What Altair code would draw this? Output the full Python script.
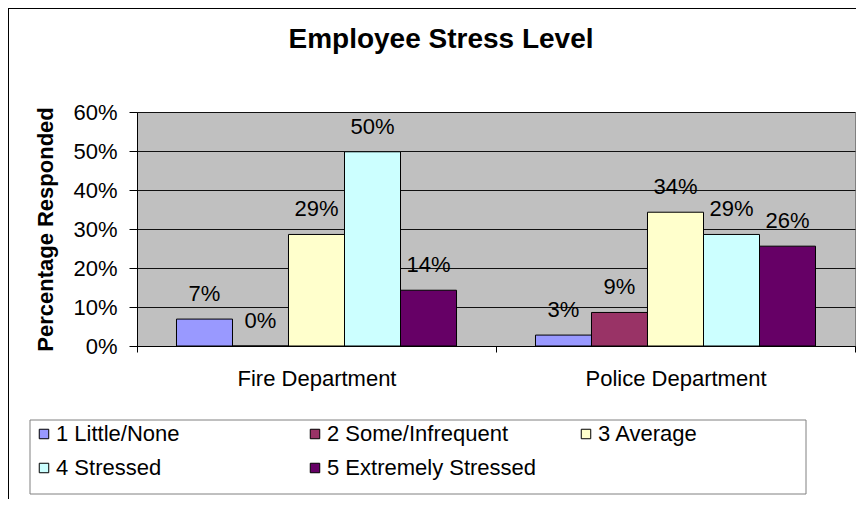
import altair as alt
import pandas as pd

TITLE = "Employee Stress Level"
Y_TITLE = "Percentage Responded"
DEPARTMENTS = ["Fire Department", "Police Department"]
LEVELS = ["1 Little/None", "2 Some/Infrequent", "3 Average", "4 Stressed", "5 Extremely Stressed"]
COLORS = ["#9999FF", "#993366", "#FFFFCC", "#CCFFFF", "#660066"]
FIRE = [0.069, 0.0, 0.286, 0.498, 0.143]
POLICE = [0.028, 0.086, 0.343, 0.286, 0.256]
Y_TICKS = [0, 0.1, 0.2, 0.3, 0.4, 0.5, 0.6]

rows = []
for dept, vals in zip(DEPARTMENTS, [FIRE, POLICE]):
    for lvl, v in zip(LEVELS, vals):
        rows.append({"Department": dept, "Level": lvl, "Value": v})
df = pd.DataFrame(rows)

FONT = "Liberation Sans"
W, H = 718, 234

x_enc = alt.X("Department:N", sort=DEPARTMENTS,
              scale=alt.Scale(paddingInner=0, paddingOuter=0),
              axis=alt.Axis(title=None, labelAngle=0, labelFontSize=22, labelFont=FONT,
                            labelColor="black", tickBand="extent", tickSize=6,
                            tickColor="black", domainColor="black", labelPadding=16,
                            labelLimit=400))
xo_enc = alt.XOffset("Level:N", sort=LEVELS,
                     scale=alt.Scale(paddingInner=0, paddingOuter=0.705))
y_enc = alt.Y("Value:Q", scale=alt.Scale(domain=[0, 0.6], nice=False),
              axis=alt.Axis(values=Y_TICKS, format=".0%", title=Y_TITLE,
                            labelOverlap=False,
                            labelFontSize=22, labelFont=FONT, labelColor="black",
                            titleFontSize=22, titleFont=FONT, titleFontWeight="bold",
                            titleColor="black", titleX=-92, titleY=H / 2,
                            titleAngle=-90, titleAlign="center", titleBaseline="middle",
                            grid=True, gridColor="#111111", gridWidth=1,
                            tickSize=8, tickColor="black", domainColor="black",
                            labelPadding=12))

bars = alt.Chart(df).mark_bar(stroke="black", strokeWidth=1).encode(
    x=x_enc, xOffset=xo_enc, y=y_enc,
    color=alt.Color("Level:N", sort=LEVELS,
                    scale=alt.Scale(domain=LEVELS, range=COLORS),
                    legend=alt.Legend(title=None, orient="none", legendX=-104, legendY=311,
                                      direction="horizontal", columns=3, gridAlign="all",
                                      columnPadding=38, rowPadding=12,
                                      symbolType="square", symbolSize=90,
                                      symbolStrokeColor="black", symbolStrokeWidth=1,
                                      symbolOffset=0, labelOffset=1,
                                      labelFontSize=22, labelFont=FONT, labelColor="black",
                                      labelLimit=400)),
)

labels = alt.Chart(df).mark_text(fontSize=22, font=FONT, color="black",
                                 baseline="middle", dy=-25).encode(
    x=x_enc, xOffset=xo_enc, y=y_enc,
    text=alt.Text("Value:Q", format=".0%"),
)

one = pd.DataFrame({"t": [TITLE]})
title = alt.Chart(one).mark_text(fontSize=28, font=FONT, fontWeight="bold", color="black",
                                 baseline="middle", align="center").encode(
    text="t:N", x=alt.value(304), y=alt.value(-72))

legend_box = alt.Chart(one).mark_rect(fill="white", stroke="#808080", strokeWidth=1).encode(
    x=alt.value(-107), x2=alt.value(669), y=alt.value(308), y2=alt.value(382))

border_left = alt.Chart(one).mark_rule(color="black", strokeWidth=1).encode(
    x=alt.value(-128.5), y=alt.value(-104), y2=alt.value(400))
border_top = alt.Chart(one).mark_rule(color="black", strokeWidth=1).encode(
    x=alt.value(-129), x2=alt.value(730), y=alt.value(-103.5))

chart = alt.layer(legend_box, bars, labels, title, border_left, border_top).properties(
    width=W, height=H,
    padding={"left": 129, "top": 104, "right": 1, "bottom": 153},
    autosize=alt.AutoSizeParams(type="none"),
    background="white",
).configure_view(fill="#C0C0C0", stroke="#808080", strokeWidth=1)

chart.save("out.html", embed_options={"renderer": "svg", "actions": False})
